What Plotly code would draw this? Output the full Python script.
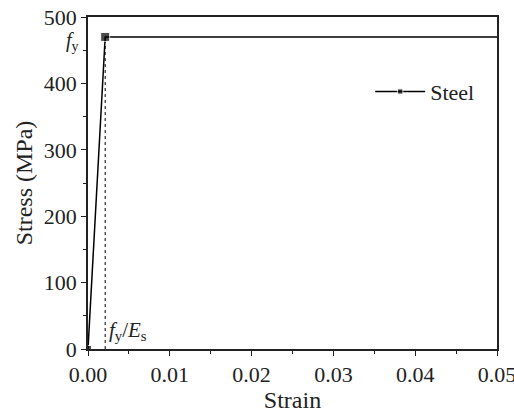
import plotly.graph_objects as go

# Bilinear (elastic–perfectly plastic) steel model
strain = [0.0, 0.0021, 0.05]
stress = [0.0, 470.0, 470.0]
marker_sizes = [7, 9, 0]

fy = 470.0
eps_y = 0.0021

x_ticks = [0.00, 0.01, 0.02, 0.03, 0.04, 0.05]
y_ticks = [0, 100, 200, 300, 400, 500]

FONT = "Liberation Serif"

fig = go.Figure()

# dotted guide at the yield strain
fig.add_trace(go.Scatter(
    x=[eps_y, eps_y], y=[0, fy], mode="lines",
    line=dict(color="black", width=1, dash="dot"),
    showlegend=False, hoverinfo="skip",
))

fig.add_trace(go.Scatter(
    x=strain, y=stress, mode="lines+markers", name="Steel",
    line=dict(color="black", width=1.5),
    marker=dict(symbol="square", size=marker_sizes, color="black"),
))

fig.add_annotation(x=0, y=fy, xref="paper", yref="y", xanchor="right",
                   yanchor="middle", xshift=-7, yshift=-5,
                   text="<i>f</i><sub>y</sub>", showarrow=False,
                   font=dict(family=FONT, size=20, color="#222"))
fig.add_annotation(x=eps_y, y=0, xref="x", yref="y", xanchor="left",
                   yanchor="bottom", xshift=2, yshift=3,
                   text="<i>f</i><sub>y</sub>/<i>E</i><sub>s</sub>",
                   showarrow=False,
                   font=dict(family=FONT, size=21, color="#222"))

axis_common = dict(
    showline=True, linecolor="#222", linewidth=1.5, mirror=True,
    ticks="outside", ticklen=5, tickwidth=1.2, tickcolor="#222",
    showgrid=False, zeroline=False, automargin=False,
    ticklabeloverflow="allow",
    tickfont=dict(family=FONT, size=22, color="#222"),
    minor=dict(ticks="outside", ticklen=3, tickwidth=1, tickcolor="#222"),
)

fig.update_xaxes(range=[0, 0.05], tickvals=x_ticks,
                 ticktext=[f"{v:.2f}" for v in x_ticks],
                 minor_dtick=0.005,
                 title=dict(text="Strain", standoff=2,
                            font=dict(family=FONT, size=24, color="#222")),
                 **axis_common)
fig.update_yaxes(range=[0, 500], tickvals=y_ticks, minor_dtick=50,
                 title=dict(text="Stress (MPa)", standoff=4,
                            font=dict(family=FONT, size=24, color="#222")),
                 **axis_common)

fig.update_layout(
    width=514, height=414,
    margin=dict(l=88, r=17, t=17, b=65),
    paper_bgcolor="white", plot_bgcolor="white",
    legend=dict(x=0.69, y=0.775, xanchor="left", yanchor="middle",
                itemwidth=50, bgcolor="rgba(0,0,0,0)",
                font=dict(family=FONT, size=22, color="#222")),
)

fig.write_html("out.html")
